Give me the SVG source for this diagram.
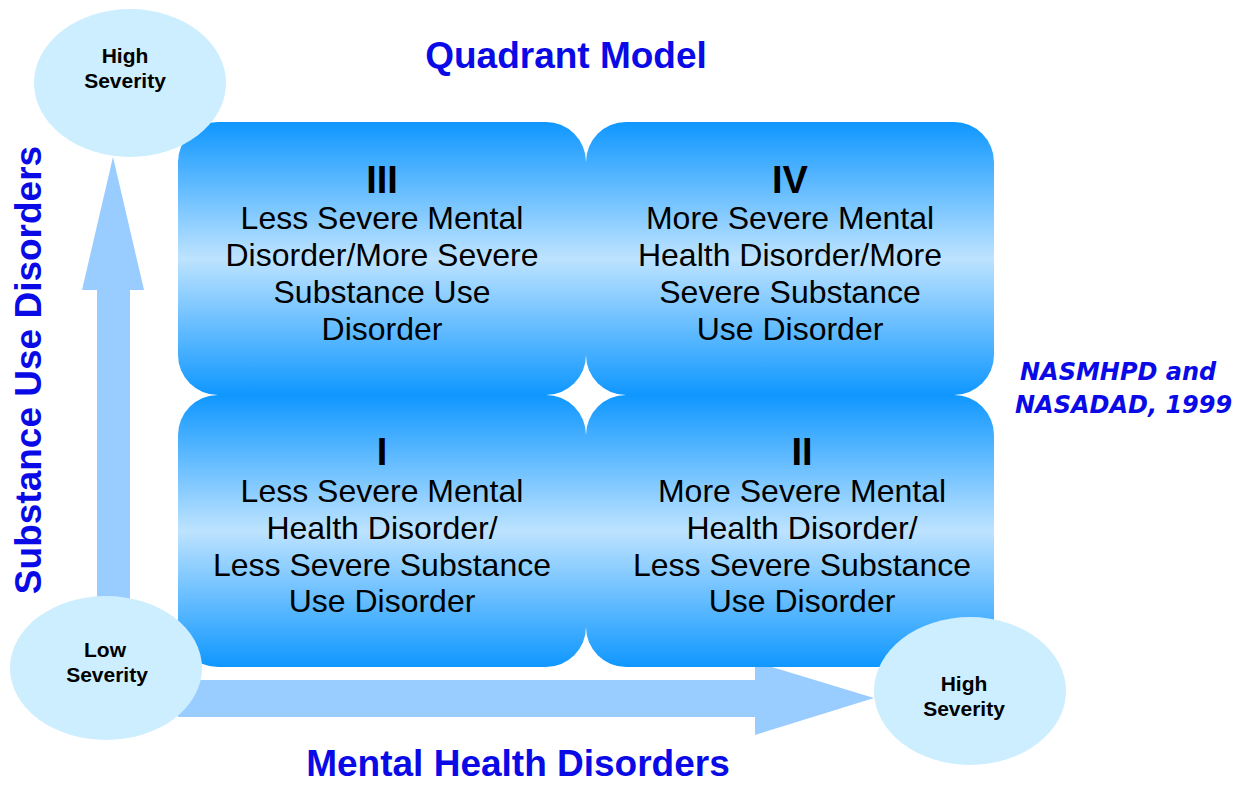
<svg xmlns="http://www.w3.org/2000/svg" width="1250" height="785" viewBox="0 0 1250 785">
<defs>
<linearGradient id="qg" x1="0" y1="0" x2="0" y2="1">
<stop offset="0" stop-color="#0f97ff"/>
<stop offset="0.5" stop-color="#bde3ff"/>
<stop offset="1" stop-color="#0f97ff"/>
</linearGradient>
<style>
.q{fill:url(#qg);}
.el{fill:#cceeff;}
.arr{fill:#99ccff;}
.num{font-family:"Liberation Sans",Arial,sans-serif;font-weight:bold;font-size:38px;fill:#000;text-anchor:middle;}
.qt{font-family:"Liberation Sans",Arial,sans-serif;font-size:32px;fill:#000;text-anchor:middle;}
.sev{font-family:"Liberation Sans",Arial,sans-serif;font-weight:bold;font-size:21px;fill:#000;text-anchor:middle;}
.title{font-family:"Liberation Sans",Arial,sans-serif;font-weight:bold;font-size:37px;fill:#0a0ae6;text-anchor:middle;}
.cite{font-family:"DejaVu Sans",Verdana,sans-serif;font-weight:bold;font-style:italic;font-size:24px;fill:#0a0ae6;}
</style>
</defs>
<rect width="1250" height="785" fill="#fff"/>
<g id="connectors">
<polygon class="arr" points="97,600 97,290 82,290 113,157 144,290 130,290 130,600"/>
<polygon class="arr" points="178,680 755,680 755,662 874,698 755,735 755,717 178,717"/>
</g>
<g id="q3"><rect class="q" x="178" y="122" width="408" height="273" rx="40" ry="40"/>
<text class="num" x="382" y="193">III</text>
<text class="qt" x="382" y="229">Less Severe Mental</text>
<text class="qt" x="382" y="266">Disorder/More Severe</text>
<text class="qt" x="382" y="303">Substance Use</text>
<text class="qt" x="382" y="340">Disorder</text></g>
<g id="q4"><rect class="q" x="586" y="122" width="408" height="273" rx="40" ry="40"/>
<text class="num" x="790" y="193">IV</text>
<text class="qt" x="790" y="229">More Severe Mental</text>
<text class="qt" x="790" y="266">Health Disorder/More</text>
<text class="qt" x="790" y="303">Severe Substance</text>
<text class="qt" x="790" y="340">Use Disorder</text></g>
<g id="q1"><rect class="q" x="178" y="395" width="408" height="272" rx="40" ry="40"/>
<text class="num" x="382" y="465">I</text>
<text class="qt" x="382" y="502">Less Severe Mental</text>
<text class="qt" x="382" y="539">Health Disorder/</text>
<text class="qt" x="382" y="576">Less Severe Substance</text>
<text class="qt" x="382" y="612">Use Disorder</text></g>
<g id="q2"><rect class="q" x="586" y="395" width="408" height="272" rx="40" ry="40"/>
<text class="num" x="802" y="465">II</text>
<text class="qt" x="802" y="502">More Severe Mental</text>
<text class="qt" x="802" y="539">Health Disorder/</text>
<text class="qt" x="802" y="576">Less Severe Substance</text>
<text class="qt" x="802" y="612">Use Disorder</text></g>
<g id="high-top"><ellipse class="el" cx="130" cy="83" rx="96" ry="74"/>
<text class="sev" x="125" y="63">High</text>
<text class="sev" x="125" y="88">Severity</text></g>
<g id="low"><ellipse class="el" cx="106" cy="668" rx="96" ry="72"/>
<text class="sev" x="105" y="657">Low</text>
<text class="sev" x="107" y="682">Severity</text></g>
<g id="high-right"><ellipse class="el" cx="970" cy="691" rx="96" ry="74"/>
<text class="sev" x="964" y="691">High</text>
<text class="sev" x="964" y="716">Severity</text></g>
<g id="labels">
<text class="title" x="566" y="68">Quadrant Model</text>
<text class="title" x="518" y="776">Mental Health Disorders</text>
<text class="title" transform="translate(41,370) rotate(-90)" x="0" y="0">Substance Use Disorders</text>
<text class="cite" x="1020" y="380">NASMHPD and</text>
<text class="cite" x="1015" y="413">NASADAD, 1999</text>
</g>
</svg>
